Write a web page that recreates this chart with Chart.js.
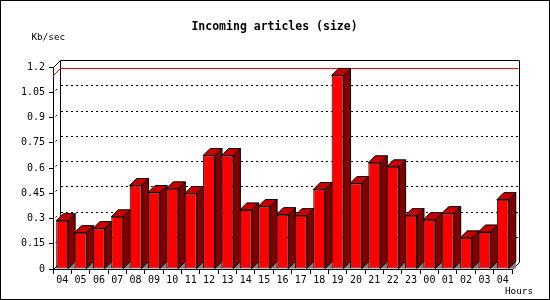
<!DOCTYPE html>
<html>
<head>
<meta charset="utf-8">
<script src="https://cdn.jsdelivr.net/npm/chart.js@4/dist/chart.umd.min.js"></script>
<style>
html,body{margin:0;padding:0;background:#fff;}
#wrap{width:550px;height:300px;position:relative;}
canvas{display:block;}
</style>
</head>
<body>
<div id="wrap"><canvas id="c" width="550" height="300"></canvas></div>
<script>
// ---- data ----
const hours = ['04','05','06','07','08','09','10','11','12','13','14','15','16','17','18','19','20','21','22','23','00','01','02','03','04'];
const kbPerSec = [0.287,0.216,0.24,0.31,0.496,0.454,0.476,0.448,0.674,0.674,0.351,0.371,0.323,0.317,0.472,1.15,0.508,0.631,0.607,0.317,0.293,0.329,0.185,0.22,0.412];
const yTicks = [0,0.15,0.3,0.45,0.6,0.75,0.9,1.05,1.2];
const yTickLabels = ['0','0.15','0.3','0.45','0.6','0.75','0.9','1.05','1.2'];
const titleText = 'Incoming articles (size)';
const yUnitText = 'Kb/sec';
const xUnitText = 'Hours';

const DEPTH = 7;
const FONT = "'DejaVu Sans Mono', 'Liberation Mono', monospace";

const threeD = {
  id: 'threeD',
  beforeDatasetsDraw(chart) {
    const ctx = chart.ctx;
    const ca = chart.chartArea;
    const ys = chart.scales.y;
    const L = ca.left, R = ca.right, B = ca.bottom, T = ca.top;
    ctx.save();
    ctx.lineWidth = 1;
    // back dotted grid
    ctx.strokeStyle = '#000';
    ctx.setLineDash([2,3]);
    ys.ticks.forEach(t => {
      if (t.value <= 0 || t.value >= 1.2) return;
      const py = Math.round(ys.getPixelForValue(t.value)) - DEPTH + 0.5;
      ctx.beginPath();
      ctx.moveTo(L + DEPTH + 1, py);
      ctx.lineTo(R + DEPTH, py);
      ctx.stroke();
      // left wall diagonal
      ctx.beginPath();
      ctx.moveTo(L + 2.5, py + DEPTH - 2);
      ctx.lineTo(L + 4.5, py + DEPTH - 4);
      ctx.stroke();
    });
    ctx.setLineDash([]);
    // back box
    const bx0 = Math.round(L + DEPTH) + 0.5, bx1 = Math.round(R + DEPTH) + 0.5;
    const by0 = Math.round(T - DEPTH) + 0.5, by1 = Math.round(B - DEPTH) + 0.5;
    ctx.beginPath();
    ctx.moveTo(L + 0.5, T + 0.5); ctx.lineTo(bx0, by0);
    ctx.lineTo(bx1, by0); ctx.lineTo(bx1, by1);
    ctx.lineTo(R + 0.5, B + 0.5);
    ctx.moveTo(bx0, by0); ctx.lineTo(bx0, by1);
    ctx.moveTo(L + 0.5, B + 0.5); ctx.lineTo(bx0, by1);
    ctx.stroke();
    // max line
    const maxV = Math.max(...kbPerSec);
    const my = Math.round(ys.getPixelForValue(maxV)) + 0.5;
    ctx.strokeStyle = '#ff0000';
    ctx.beginPath();
    ctx.moveTo(L + 0.5, my); ctx.lineTo(bx0, my - DEPTH);
    ctx.lineTo(bx1 - 1, my - DEPTH);
    ctx.stroke();
    // bars 3D side & top
    const meta = chart.getDatasetMeta(0);
    meta.data.forEach(bar => {
      const w = bar.width;
      const l = bar.x - w/2, r = bar.x + w/2;
      const top = bar.y, base = bar.base;
      // floor shadow
      ctx.fillStyle = '#808080';
      ctx.beginPath();
      ctx.moveTo(r, base); ctx.lineTo(r + DEPTH, base - DEPTH); ctx.lineTo(r + DEPTH, base);
      ctx.closePath(); ctx.fill();
      ctx.strokeStyle = '#000';
      // side
      ctx.fillStyle = '#800000';
      ctx.beginPath();
      ctx.moveTo(r, top); ctx.lineTo(r + DEPTH, top - DEPTH);
      ctx.lineTo(r + DEPTH, base - DEPTH); ctx.lineTo(r, base);
      ctx.closePath(); ctx.fill(); ctx.stroke();
      // top
      ctx.fillStyle = '#c80000';
      ctx.beginPath();
      ctx.moveTo(l, top); ctx.lineTo(l + DEPTH, top - DEPTH);
      ctx.lineTo(r + DEPTH, top - DEPTH); ctx.lineTo(r, top);
      ctx.closePath(); ctx.fill(); ctx.stroke();
    });
    ctx.restore();
  },
  afterDraw(chart) {
    const ctx = chart.ctx;
    ctx.save();
    ctx.fillStyle = '#000';
    ctx.textBaseline = 'middle';
    ctx.font = 'bold 11.5px ' + FONT;
    ctx.textAlign = 'center';
    ctx.fillText(titleText, 274.5, 27);
    ctx.font = '9.3px ' + FONT;
    ctx.textAlign = 'left';
    ctx.fillText(yUnitText, 31.5, 38);
    ctx.fillText(xUnitText, 505, 292);
    ctx.strokeStyle = '#000';
    ctx.lineWidth = 1;
    ctx.strokeRect(0.5, 0.5, 549, 299);
    ctx.restore();
  }
};

new Chart(document.getElementById('c'), {
  type: 'bar',
  data: {
    labels: hours,
    datasets: [{
      data: kbPerSec,
      backgroundColor: '#ff0000',
      borderColor: '#000000',
      borderWidth: 1,
      borderSkipped: false,
      categoryPercentage: 1,
      barPercentage: 0.65
    }]
  },
  options: {
    responsive: false,
    animation: false,
    events: [],
    layout: { padding: { left: 0, top: 67, right: 38, bottom: 0 } },
    plugins: { legend: { display: false }, title: { display: false }, tooltip: { enabled: false } },
    scales: {
      x: {
        grid: { drawOnChartArea: false, drawTicks: true, tickLength: 5, color: '#000', offset: true },
        border: { color: '#000', width: 1 },
        ticks: { color: '#000', padding: 0, font: { family: FONT, size: 10 }, maxRotation: 0, autoSkip: false },
        afterFit(s) { s.height = 31; }
      },
      y: {
        min: 0, max: 1.2,
        grid: { drawOnChartArea: false, drawTicks: true, tickLength: 4, color: '#000' },
        border: { color: '#000', width: 1 },
        afterBuildTicks(s) { s.ticks = yTicks.map(v => ({ value: v })); },
        ticks: { color: '#000', padding: 4, font: { family: FONT, size: 10 },
                 callback: (v, i) => yTickLabels[i] },
        afterFit(s) { s.width = 53; }
      }
    }
  },
  plugins: [threeD]
});
</script>
</body>
</html>
